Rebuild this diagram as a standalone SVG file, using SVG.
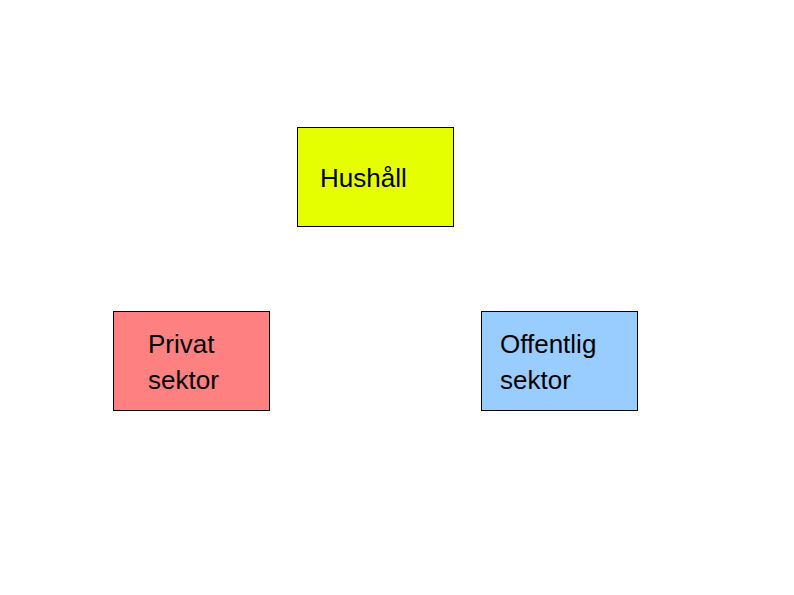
<svg xmlns="http://www.w3.org/2000/svg" width="794" height="595" viewBox="0 0 794 595">
<style>
.b{stroke:#000;stroke-width:1}
.t{font-family:"Liberation Sans",Arial,sans-serif;font-size:26px;fill:#000}
</style>
<rect width="794" height="595" fill="#fff"/>
<g id="hushall"><rect class="b" x="297.5" y="127.5" width="156" height="99" fill="#e5ff00"/><text class="t" x="320" y="187">Hushåll</text></g>
<g id="privat"><rect class="b" x="113.5" y="311.5" width="156" height="99" fill="#ff8080"/><text class="t" x="148" y="353">Privat</text><text class="t" x="148" y="389">sektor</text></g>
<g id="offentlig"><rect class="b" x="481.5" y="311.5" width="156" height="99" fill="#99ccff"/><text class="t" x="500" y="353">Offentlig</text><text class="t" x="500" y="389">sektor</text></g>
<g id="connectors"/>
</svg>
